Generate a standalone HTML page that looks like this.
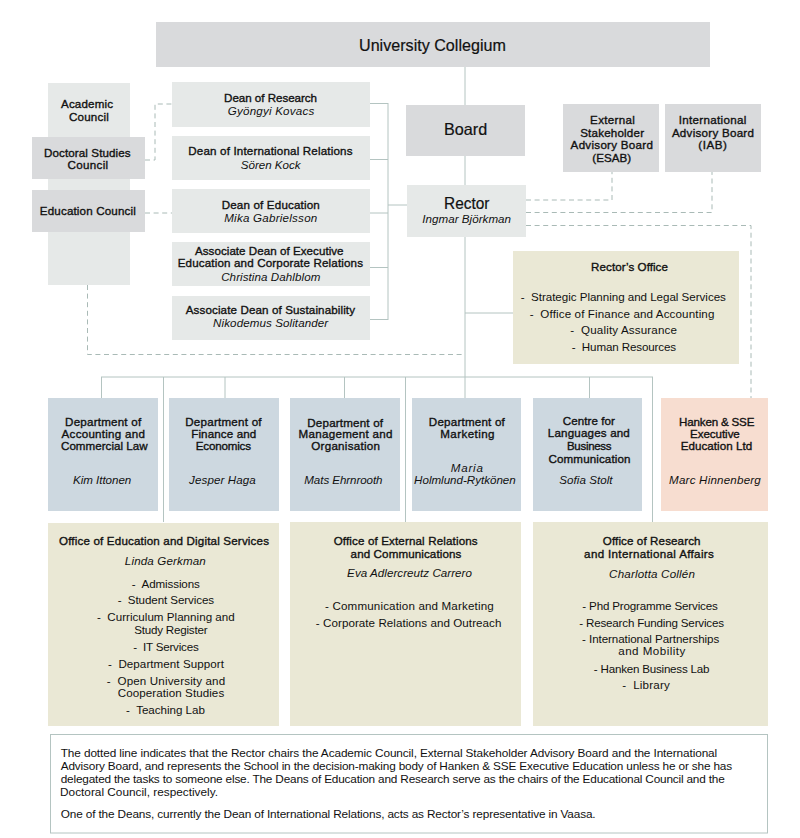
<!DOCTYPE html>
<html><head><meta charset="utf-8"><style>
html,body{margin:0;padding:0;background:#fff;}
body{width:800px;height:838px;position:relative;overflow:hidden;font-family:"Liberation Sans",sans-serif;color:#111111;}
.b{position:absolute;}
.t{position:absolute;white-space:nowrap;transform-origin:0 0;}
.T{font-size:11.6px;-webkit-text-stroke:0.35px #111111;}
.B{font-size:16.5px;-webkit-text-stroke:0.2px #111111;}
.I{font-size:11.6px;font-style:italic;}
.R{font-size:11.6px;}
.F{font-size:11.8px;}
svg{position:absolute;left:0;top:0;}
</style></head><body>

<div class="b" style="left:156px;top:22px;width:554px;height:45px;background:#d9dadc"></div>
<div class="b" style="left:48px;top:83px;width:82px;height:202px;background:#e6e9e8"></div>
<div class="b" style="left:32px;top:137px;width:113px;height:42px;background:#d9dadc"></div>
<div class="b" style="left:32px;top:190px;width:113px;height:42px;background:#d9dadc"></div>
<div class="b" style="left:172px;top:82px;width:198px;height:45px;background:#e6e9e8"></div>
<div class="b" style="left:172px;top:136px;width:198px;height:44px;background:#e6e9e8"></div>
<div class="b" style="left:172px;top:189px;width:198px;height:44px;background:#e6e9e8"></div>
<div class="b" style="left:172px;top:242px;width:198px;height:44px;background:#e6e9e8"></div>
<div class="b" style="left:172px;top:296px;width:198px;height:44px;background:#e6e9e8"></div>
<div class="b" style="left:406px;top:105px;width:119px;height:51px;background:#d9dadc"></div>
<div class="b" style="left:407px;top:185px;width:119px;height:52px;background:#e6e9e8"></div>
<div class="b" style="left:563px;top:104px;width:96px;height:68px;background:#d9dadc"></div>
<div class="b" style="left:665px;top:104px;width:96px;height:68px;background:#d9dadc"></div>
<div class="b" style="left:513px;top:251px;width:226px;height:113px;background:#eae8d5"></div>
<div class="b" style="left:48px;top:398px;width:109.5px;height:112.5px;background:#cdd8e0"></div>
<div class="b" style="left:169px;top:398px;width:110px;height:112.5px;background:#cdd8e0"></div>
<div class="b" style="left:290px;top:398px;width:110px;height:112.5px;background:#cdd8e0"></div>
<div class="b" style="left:411.5px;top:398px;width:109.5px;height:112.5px;background:#cdd8e0"></div>
<div class="b" style="left:533px;top:398px;width:109px;height:112.5px;background:#cdd8e0"></div>
<div class="b" style="left:661px;top:398px;width:106.5px;height:112.5px;background:#f7ddd0"></div>
<div class="b" style="left:48px;top:522.5px;width:231px;height:203px;background:#eae8d5"></div>
<div class="b" style="left:290px;top:522px;width:231px;height:203.5px;background:#eae8d5"></div>
<div class="b" style="left:533px;top:522px;width:234.5px;height:203.5px;background:#eae8d5"></div>
<svg width="800" height="838" viewBox="0 0 800 838">
<line x1="465" y1="67" x2="465" y2="105" stroke="#b4c4c1" stroke-width="1"/>
<line x1="465" y1="156" x2="465" y2="185" stroke="#b4c4c1" stroke-width="1"/>
<line x1="465" y1="237" x2="465" y2="398" stroke="#b4c4c1" stroke-width="1"/>
<line x1="370" y1="103.5" x2="388" y2="103.5" stroke="#b4c4c1" stroke-width="1"/>
<line x1="370" y1="159.5" x2="388" y2="159.5" stroke="#b4c4c1" stroke-width="1"/>
<line x1="370" y1="213" x2="388" y2="213" stroke="#b4c4c1" stroke-width="1"/>
<line x1="370" y1="267.5" x2="388" y2="267.5" stroke="#b4c4c1" stroke-width="1"/>
<line x1="370" y1="319.5" x2="388" y2="319.5" stroke="#b4c4c1" stroke-width="1"/>
<line x1="388" y1="103" x2="388" y2="320" stroke="#b4c4c1" stroke-width="1"/>
<line x1="388" y1="205" x2="407" y2="205" stroke="#b4c4c1" stroke-width="1"/>
<line x1="465" y1="313" x2="513" y2="313" stroke="#b4c4c1" stroke-width="1"/>
<line x1="101" y1="377" x2="653" y2="377" stroke="#b4c4c1" stroke-width="1"/>
<line x1="101.5" y1="377" x2="101.5" y2="398" stroke="#b4c4c1" stroke-width="1"/>
<line x1="225" y1="377" x2="225" y2="398" stroke="#b4c4c1" stroke-width="1"/>
<line x1="344.5" y1="377" x2="344.5" y2="398" stroke="#b4c4c1" stroke-width="1"/>
<line x1="589.5" y1="377" x2="589.5" y2="398" stroke="#b4c4c1" stroke-width="1"/>
<line x1="163.5" y1="377" x2="163.5" y2="522" stroke="#b4c4c1" stroke-width="1"/>
<line x1="405.5" y1="377" x2="405.5" y2="522" stroke="#b4c4c1" stroke-width="1"/>
<line x1="652.5" y1="377" x2="652.5" y2="522" stroke="#b4c4c1" stroke-width="1"/>
<polyline fill="none" points="145,160 155,160 155,104 172,104" stroke="#a9bab6" stroke-width="1" stroke-dasharray="5 3.6"/>
<polyline fill="none" points="145,213 172,213" stroke="#a9bab6" stroke-width="1" stroke-dasharray="5 3.6"/>
<polyline fill="none" points="87.5,285 87.5,354.5 465,354.5" stroke="#a9bab6" stroke-width="1" stroke-dasharray="5 3.6"/>
<polyline fill="none" points="526,200 612,200 612,172" stroke="#a9bab6" stroke-width="1" stroke-dasharray="5 3.6"/>
<polyline fill="none" points="526,212.5 712,212.5 712,172" stroke="#a9bab6" stroke-width="1" stroke-dasharray="5 3.6"/>
<polyline fill="none" points="526,225.5 751,225.5 751,398" stroke="#a9bab6" stroke-width="1" stroke-dasharray="5 3.6"/>
<rect x="50.5" y="734.5" width="717" height="98.5" fill="none" stroke="#b4c4c1" stroke-width="1"/>
</svg>
<div class="t B" id="t0" style="left:359.30px;top:36.37px;line-height:18.430px;transform:scaleX(0.9768);">University Collegium</div>
<div class="t T" id="t1" style="left:61.06px;top:98.40px;line-height:12.957px;letter-spacing:0.148px;">Academic</div>
<div class="t T" id="t2" style="left:69.00px;top:111.30px;line-height:12.957px;letter-spacing:0.181px;">Council</div>
<div class="t T" id="t3" style="left:44.05px;top:147.30px;line-height:12.957px;letter-spacing:0.096px;">Doctoral Studies</div>
<div class="t T" id="t4" style="left:67.62px;top:159.30px;line-height:12.957px;letter-spacing:0.308px;">Council</div>
<div class="t T" id="t5" style="left:39.86px;top:205.30px;line-height:12.957px;letter-spacing:0.153px;">Education Council</div>
<div class="t T" id="t6" style="left:224.12px;top:92.10px;line-height:12.957px;letter-spacing:-0.038px;">Dean of Research</div>
<div class="t I" id="t7" style="left:227.86px;top:105.40px;line-height:12.957px;letter-spacing:0.197px;">Gyöngyi Kovacs</div>
<div class="t T" id="t8" style="left:188.30px;top:145.30px;line-height:12.957px;letter-spacing:0.167px;">Dean of International Relations</div>
<div class="t I" id="t9" style="left:240.86px;top:158.55px;line-height:12.957px;letter-spacing:-0.040px;">Sören Kock</div>
<div class="t T" id="t10" style="left:221.68px;top:198.55px;line-height:12.957px;letter-spacing:0.171px;">Dean of Education</div>
<div class="t I" id="t11" style="left:224.18px;top:211.55px;line-height:12.957px;letter-spacing:0.237px;">Mika Gabrielsson</div>
<div class="t T" id="t12" style="left:195.00px;top:245.30px;line-height:12.957px;letter-spacing:0.038px;">Associate Dean of Executive</div>
<div class="t T" id="t13" style="left:177.74px;top:257.30px;line-height:12.957px;letter-spacing:0.150px;">Education and Corporate Relations</div>
<div class="t I" id="t14" style="left:221.18px;top:270.55px;line-height:12.957px;letter-spacing:0.070px;">Christina Dahlblom</div>
<div class="t T" id="t15" style="left:185.74px;top:304.30px;line-height:12.957px;letter-spacing:0.117px;">Associate Dean of Sustainability</div>
<div class="t I" id="t16" style="left:213.12px;top:317.30px;line-height:12.957px;letter-spacing:0.086px;">Nikodemus Solitander</div>
<div class="t B" id="t17" style="left:443.80px;top:120.37px;line-height:18.430px;transform:scaleX(0.9800);">Board</div>
<div class="t B" id="t18" style="left:443.80px;top:193.62px;line-height:18.430px;transform:scaleX(0.9350);">Rector</div>
<div class="t I" id="t19" style="left:422.30px;top:213.30px;line-height:12.957px;letter-spacing:0.030px;">Ingmar Björkman</div>
<div class="t T" id="t20" style="left:590.12px;top:114.30px;line-height:12.957px;letter-spacing:0.301px;">External</div>
<div class="t T" id="t21" style="left:580.18px;top:127.40px;line-height:12.957px;letter-spacing:0.194px;">Stakeholder</div>
<div class="t T" id="t22" style="left:570.62px;top:139.30px;line-height:12.957px;letter-spacing:0.284px;">Advisory Board</div>
<div class="t T" id="t23" style="left:592.30px;top:152.00px;line-height:12.957px;letter-spacing:0.037px;">(ESAB)</div>
<div class="t T" id="t24" style="left:678.68px;top:114.30px;line-height:12.957px;letter-spacing:0.314px;">International</div>
<div class="t T" id="t25" style="left:671.88px;top:127.40px;line-height:12.957px;letter-spacing:0.264px;">Advisory Board</div>
<div class="t T" id="t26" style="left:698.36px;top:139.30px;line-height:12.957px;letter-spacing:0.495px;">(IAB)</div>
<div class="t T" id="t27" style="left:591.12px;top:261.30px;line-height:12.957px;letter-spacing:0.055px;">Rector’s Office</div>
<div class="t R" id="t28" style="left:520.80px;top:291.40px;line-height:12.957px;letter-spacing:-0.030px;">-  Strategic Planning and Legal Services</div>
<div class="t R" id="t29" style="left:529.68px;top:308.00px;line-height:12.957px;letter-spacing:0.131px;">-  Office of Finance and Accounting</div>
<div class="t R" id="t30" style="left:570.30px;top:324.40px;line-height:12.957px;letter-spacing:0.152px;">-  Quality Assurance</div>
<div class="t R" id="t31" style="left:571.86px;top:340.60px;line-height:12.957px;letter-spacing:-0.120px;">-  Human Resources</div>
<div class="t T" id="t32" style="left:65.12px;top:416.10px;line-height:12.957px;letter-spacing:0.211px;">Department of</div>
<div class="t T" id="t33" style="left:61.62px;top:428.30px;line-height:12.957px;letter-spacing:0.256px;">Accounting and</div>
<div class="t T" id="t34" style="left:61.00px;top:439.60px;line-height:12.957px;letter-spacing:0.026px;">Commercial Law</div>
<div class="t I" id="t35" style="left:73.06px;top:474.10px;line-height:12.957px;letter-spacing:-0.046px;">Kim Ittonen</div>
<div class="t T" id="t36" style="left:185.24px;top:416.10px;line-height:12.957px;letter-spacing:0.238px;">Department of</div>
<div class="t T" id="t37" style="left:191.18px;top:428.30px;line-height:12.957px;letter-spacing:0.127px;">Finance and</div>
<div class="t T" id="t38" style="left:195.80px;top:439.60px;line-height:12.957px;letter-spacing:-0.188px;">Economics</div>
<div class="t I" id="t39" style="left:189.06px;top:474.10px;line-height:12.957px;letter-spacing:0.101px;">Jesper Haga</div>
<div class="t T" id="t40" style="left:307.30px;top:416.55px;line-height:12.957px;letter-spacing:0.190px;">Department of</div>
<div class="t T" id="t41" style="left:298.55px;top:428.30px;line-height:12.957px;letter-spacing:0.285px;">Management and</div>
<div class="t T" id="t42" style="left:311.25px;top:440.30px;line-height:12.957px;letter-spacing:0.273px;">Organisation</div>
<div class="t I" id="t43" style="left:304.30px;top:473.55px;line-height:12.957px;letter-spacing:-0.082px;">Mats Ehrnrooth</div>
<div class="t T" id="t44" style="left:428.86px;top:416.30px;line-height:12.957px;letter-spacing:0.206px;">Department of</div>
<div class="t T" id="t45" style="left:440.24px;top:428.30px;line-height:12.957px;letter-spacing:0.412px;">Marketing</div>
<div class="t I" id="t46" style="left:450.68px;top:461.50px;line-height:12.957px;letter-spacing:0.800px;">Maria</div>
<div class="t I" id="t47" style="left:414.12px;top:473.70px;line-height:12.957px;letter-spacing:-0.012px;">Holmlund-Rytkönen</div>
<div class="t T" id="t48" style="left:562.74px;top:414.50px;line-height:12.957px;letter-spacing:0.078px;">Centre for</div>
<div class="t T" id="t49" style="left:547.86px;top:427.30px;line-height:12.957px;letter-spacing:0.167px;">Languages and</div>
<div class="t T" id="t50" style="left:566.54px;top:440.20px;line-height:12.957px;letter-spacing:-0.300px;transform:scaleX(0.9905);">Business</div>
<div class="t T" id="t51" style="left:548.56px;top:452.60px;line-height:12.957px;letter-spacing:0.111px;">Communication</div>
<div class="t I" id="t52" style="left:559.24px;top:473.70px;line-height:12.957px;letter-spacing:0.046px;">Sofia Stolt</div>
<div class="t T" id="t53" style="left:679.12px;top:415.85px;line-height:12.957px;letter-spacing:-0.189px;">Hanken &amp; SSE</div>
<div class="t T" id="t54" style="left:690.05px;top:427.55px;line-height:12.957px;letter-spacing:-0.062px;">Executive</div>
<div class="t T" id="t55" style="left:680.67px;top:439.75px;line-height:12.957px;letter-spacing:0.052px;">Education Ltd</div>
<div class="t I" id="t56" style="left:669.12px;top:473.55px;line-height:12.957px;letter-spacing:0.197px;">Marc Hinnenberg</div>
<div class="t T" id="t57" style="left:59.00px;top:535.40px;line-height:12.957px;letter-spacing:0.168px;">Office of Education and Digital Services</div>
<div class="t I" id="t58" style="left:124.86px;top:555.30px;line-height:12.957px;letter-spacing:0.136px;">Linda Gerkman</div>
<div class="t R" id="t59" style="left:131.68px;top:578.10px;line-height:12.957px;letter-spacing:-0.121px;">-  Admissions</div>
<div class="t R" id="t60" style="left:117.80px;top:594.40px;line-height:12.957px;letter-spacing:-0.090px;">-  Student Services</div>
<div class="t R" id="t61" style="left:96.92px;top:611.30px;line-height:12.957px;letter-spacing:0.023px;">-  Curriculum Planning and</div>
<div class="t R" id="t62" style="left:134.30px;top:624.30px;line-height:12.957px;letter-spacing:-0.219px;">Study Register</div>
<div class="t R" id="t63" style="left:133.24px;top:641.30px;line-height:12.957px;letter-spacing:-0.197px;">-  IT Services</div>
<div class="t R" id="t64" style="left:107.92px;top:657.60px;line-height:12.957px;letter-spacing:0.065px;">-  Department Support</div>
<div class="t R" id="t65" style="left:106.80px;top:674.50px;line-height:12.957px;letter-spacing:0.143px;">-  Open University and</div>
<div class="t R" id="t66" style="left:117.80px;top:687.00px;line-height:12.957px;letter-spacing:0.074px;">Cooperation Studies</div>
<div class="t R" id="t67" style="left:125.92px;top:703.50px;line-height:12.957px;letter-spacing:-0.023px;">-  Teaching Lab</div>
<div class="t T" id="t68" style="left:333.68px;top:535.40px;line-height:12.957px;letter-spacing:0.136px;">Office of External Relations</div>
<div class="t T" id="t69" style="left:350.62px;top:547.50px;line-height:12.957px;letter-spacing:0.108px;">and Communications</div>
<div class="t I" id="t70" style="left:347.12px;top:567.40px;line-height:12.957px;letter-spacing:0.040px;">Eva Adlercreutz Carrero</div>
<div class="t R" id="t71" style="left:325.12px;top:600.00px;line-height:12.957px;letter-spacing:0.152px;">- Communication and Marketing</div>
<div class="t R" id="t72" style="left:315.86px;top:616.50px;line-height:12.957px;letter-spacing:0.056px;">- Corporate Relations and Outreach</div>
<div class="t T" id="t73" style="left:602.80px;top:535.30px;line-height:12.957px;letter-spacing:0.111px;">Office of Research</div>
<div class="t T" id="t74" style="left:584.12px;top:547.70px;line-height:12.957px;letter-spacing:0.337px;">and International Affairs</div>
<div class="t I" id="t75" style="left:609.12px;top:567.70px;line-height:12.957px;letter-spacing:0.175px;">Charlotta Collén</div>
<div class="t R" id="t76" style="left:582.30px;top:600.10px;line-height:12.957px;letter-spacing:-0.161px;">- Phd Programme Services</div>
<div class="t R" id="t77" style="left:579.30px;top:617.00px;line-height:12.957px;letter-spacing:-0.185px;">- Research Funding Services</div>
<div class="t R" id="t78" style="left:582.12px;top:633.20px;line-height:12.957px;letter-spacing:-0.076px;">- International Partnerships</div>
<div class="t R" id="t79" style="left:618.24px;top:645.40px;line-height:12.957px;letter-spacing:0.473px;">and Mobility</div>
<div class="t R" id="t80" style="left:593.86px;top:662.50px;line-height:12.957px;letter-spacing:-0.215px;">- Hanken Business Lab</div>
<div class="t R" id="t81" style="left:622.18px;top:679.00px;line-height:12.957px;letter-spacing:0.217px;">-  Library</div>
<div class="t F" id="t82" style="left:60.74px;top:746.52px;line-height:13.181px;letter-spacing:-0.103px;">The dotted line indicates that the Rector chairs the Academic Council, External Stakeholder Advisory Board and the International</div>
<div class="t F" id="t83" style="left:60.74px;top:760.12px;line-height:13.181px;letter-spacing:-0.158px;">Advisory Board, and represents the School in the decision-making body of Hanken &amp; SSE Executive Education unless he or she has</div>
<div class="t F" id="t84" style="left:60.74px;top:773.22px;line-height:13.181px;letter-spacing:-0.183px;">delegated the tasks to someone else. The Deans of Education and Research serve as the chairs of the Educational Council and the</div>
<div class="t F" id="t85" style="left:60.04px;top:786.32px;line-height:13.181px;letter-spacing:0.007px;">Doctoral Council, respectively.</div>
<div class="t F" id="t86" style="left:60.74px;top:808.42px;line-height:13.181px;letter-spacing:-0.139px;">One of the Deans, currently the Dean of International Relations, acts as Rector’s representative in Vaasa.</div>
</body></html>
